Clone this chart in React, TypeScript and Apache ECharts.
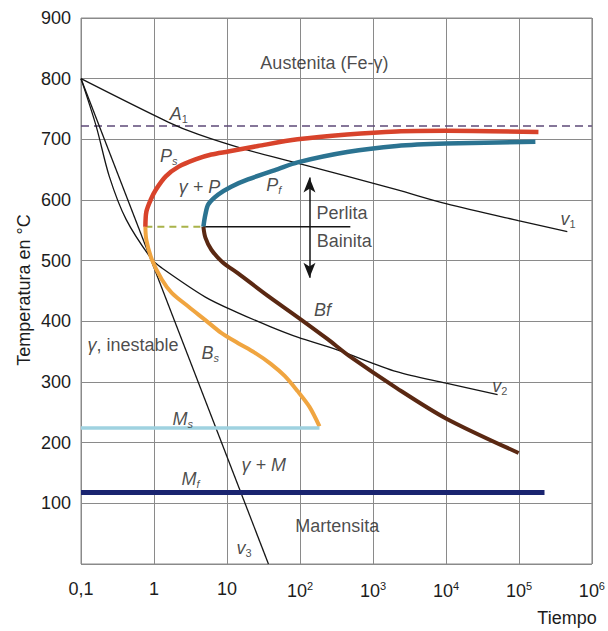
import { useEffect, useRef } from 'react';
import * as echarts from 'echarts';

const FONT = "'Liberation Sans', Arial, Helvetica, sans-serif";
const TXT = '#1c1c1c';

// Axes
const xMin = 0.1;
const xMax = 1e6;
const yMin = 0;
const yMax = 900;
const yStep = 100;

// Curves: [time (s), temperature (°C)]
const a1Line = [[0.1, 722], [1e6, 722]];
const v1Curve = [[0.1, 800], [1.59, 728], [4.06, 708], [18.2, 683], [84.5, 662], [2113, 617], [1e4, 594], [9.8e4, 566], [4.6e5, 548]];
const v2Curve = [[0.1, 800], [0.162, 721], [0.244, 639], [0.415, 568], [0.935, 502], [1.28, 488], [5.06, 440], [14.2, 414], [39.8, 391], [92.7, 374], [324, 353], [2113, 317], [1e4, 298], [5.1e4, 279]];
const v3Curve = [[0.1, 800], [37, 0]];
const psCurve = [[0.762, 556], [0.787, 581], [0.906, 601], [1.06, 617], [1.45, 639], [2.18, 655], [3.7, 667], [6.11, 675], [10.4, 680], [26.5, 689], [92.7, 700], [443, 708], [2113, 713], [1e4, 714], [1.85e5, 712]];
const pfCurve = [[4.75, 556], [5.06, 576], [5.56, 593], [7.6, 609], [11.4, 622], [19.4, 634], [50, 651], [92.7, 662], [443, 679], [2113, 689], [1e4, 693], [1.68e5, 696]];
const bfCurve = [[4.75, 556], [5.06, 538], [6.11, 518], [8.61, 498], [14.2, 479], [36.3, 442], [92.7, 407], [237, 371], [471, 343], [2113, 290], [1e4, 240], [9.9e4, 183]];
const bsCurve = [[0.762, 556], [0.787, 534], [0.935, 502], [1.28, 469], [1.75, 447], [2.98, 424], [5.06, 402], [8.34, 381], [14.2, 364], [24.2, 348], [39.8, 330], [61.7, 310], [92.7, 285], [135, 259], [185, 227]];
const msLine = [[0.1, 224], [185, 224]];
const mfLine = [[0.1, 118], [2.24e5, 118]];
const noseDashed = [[0.762, 556], [4.75, 556]];
const noseSolid = [[4.75, 556], [490, 556]];
const arrowEnds = [[135, 637], [135, 472]];

// Annotations: rich-text label, time, temperature
const annotations = [
  { text: '{n|Austenita (Fe-γ)}', t: 216, T: 826 },
  { text: '{i|A}{s|1}', t: 2.18, T: 741 },
  { text: '{i|P}{si|s}', t: 1.59, T: 672 },
  { text: '{i|γ + P}', t: 4.2, T: 621 },
  { text: '{i|P}{si|f}', t: 43.7, T: 624 },
  { text: '{n|Perlita}', t: 378, T: 578 },
  { text: '{n|Bainita}', t: 403, T: 533 },
  { text: '{i|v}{s|1}', t: 4.72e5, T: 568 },
  { text: '{i|Bf}', t: 203, T: 419 },
  { text: '{i|γ}{n|, inestable}', t: 0.516, T: 361 },
  { text: '{i|B}{si|s}', t: 5.92, T: 348 },
  { text: '{i|v}{s|2}', t: 5.46e4, T: 293 },
  { text: '{i|M}{si|s}', t: 2.47, T: 239 },
  { text: '{i|M}{si|f}', t: 3.16, T: 140 },
  { text: '{i|γ + M}', t: 32, T: 163 },
  { text: '{n|Martensita}', t: 324, T: 62 },
  { text: '{i|v}{s|3}', t: 17.1, T: 26 },
];

const xAxisTitle = 'Tiempo';
const yAxisTitle = 'Temperatura en °C';

function lineSeries(data: number[][], color: string, width: number, extra: any = {}) {
  return {
    type: 'line',
    data,
    showSymbol: false,
    symbol: 'none',
    silent: true,
    lineStyle: { color, width, ...(extra.lineStyle || {}) },
    smooth: extra.smooth ?? false,
    z: extra.z ?? 2,
  };
}

export default function App() {
  const ref = useRef<HTMLDivElement>(null);
  useEffect(() => {
    if (!ref.current) return;
    const chart = echarts.init(ref.current, undefined, { renderer: 'svg' });
    const richLabel = {
      n: { fontFamily: FONT, fontSize: 18, color: TXT },
      i: { fontFamily: FONT, fontSize: 18, fontStyle: 'italic', color: TXT },
      s: { fontFamily: FONT, fontSize: 11, color: TXT, padding: [10, 0, 0, 0] },
      si: { fontFamily: FONT, fontSize: 11, fontStyle: 'italic', color: TXT, padding: [10, 0, 0, 0] },
    };
    chart.setOption({
      animation: false,
      backgroundColor: '#ffffff',
      grid: { left: 81, right: 11, top: 18, bottom: 67, show: true, borderColor: '#8a8a8a', borderWidth: 1 },
      xAxis: {
        type: 'log',
        logBase: 10,
        min: xMin,
        max: xMax,
        axisLine: { show: false },
        axisTick: { show: false },
        splitLine: { show: true, lineStyle: { color: '#8a8a8a', width: 1 } },
        axisLabel: {
          margin: 16,
          fontFamily: FONT,
          fontSize: 18,
          color: TXT,
          showMaxLabel: true,
          formatter: (v: number) => {
            const e = Math.round(Math.log10(v));
            if (e === -1) return '0,1';
            if (e === 0) return '1';
            if (e === 1) return '10';
            return '10{sup|' + e + '}';
          },
          rich: { sup: { fontFamily: FONT, fontSize: 11, color: TXT, padding: [0, 0, 10, 0] } },
        },
      },
      yAxis: {
        type: 'value',
        min: yMin,
        max: yMax,
        interval: yStep,
        axisLine: { show: false },
        axisTick: { show: false },
        splitLine: { show: true, lineStyle: { color: '#8a8a8a', width: 1 } },
        axisLabel: {
          margin: 10,
          fontFamily: FONT,
          fontSize: 18,
          color: TXT,
          formatter: (v: number) => (v === 0 ? '' : String(v)),
        },
      },
      graphic: [
        {
          type: 'text',
          x: 24,
          y: 290,
          rotation: Math.PI / 2,
          style: { text: yAxisTitle, font: `18px ${FONT}`, fill: TXT, align: 'center', verticalAlign: 'middle' },
        },
        {
          type: 'text',
          x: 567,
          y: 618,
          style: { text: xAxisTitle, font: `18px ${FONT}`, fill: TXT, align: 'center', verticalAlign: 'middle' },
        },
      ],
      series: [
        lineSeries(a1Line, '#5e4a78', 1.6, { lineStyle: { type: [8, 5] } }),
        lineSeries(v1Curve, '#151515', 1.3, { smooth: 0.3 }),
        lineSeries(v2Curve, '#151515', 1.3, { smooth: 0.3 }),
        lineSeries(v3Curve, '#151515', 1.3),
        lineSeries(noseSolid, '#151515', 1.5),
        lineSeries(noseDashed, '#a9b34a', 2, { lineStyle: { type: [7, 5] } }),
        lineSeries(bsCurve, '#f0a540', 4, { smooth: 0.3, z: 3 }),
        lineSeries(psCurve, '#d8432b', 4.5, { smooth: 0.3, z: 3 }),
        lineSeries(pfCurve, '#2b7391', 4.5, { smooth: 0.3, z: 3 }),
        lineSeries(bfCurve, '#5a2812', 4, { smooth: 0.3, z: 3 }),
        lineSeries(msLine, '#9fd2e0', 3.5, { z: 3 }),
        lineSeries(mfLine, '#1a2470', 5, { z: 3 }),
        {
          type: 'line',
          data: [],
          silent: true,
          markLine: {
            silent: true,
            symbol: ['arrow', 'arrow'],
            symbolSize: [9, 15],
            label: { show: false },
            lineStyle: { color: '#151515', width: 1.5, type: 'solid' },
            data: [[{ coord: arrowEnds[0] }, { coord: arrowEnds[1] }]],
          },
        },
        {
          type: 'scatter',
          silent: true,
          symbolSize: 0.1,
          itemStyle: { color: 'rgba(0,0,0,0)' },
          z: 10,
          data: annotations.map((a) => ({ name: a.text, value: [a.t, a.T] })),
          label: {
            show: true,
            position: 'inside',
            formatter: (p: any) => p.name,
            rich: richLabel,
          },
        },
      ],
    });
    return () => chart.dispose();
  }, []);
  return <div ref={ref} style={{ position: 'absolute', left: 0, top: 0, width: 608, height: 631 }} />;
}
